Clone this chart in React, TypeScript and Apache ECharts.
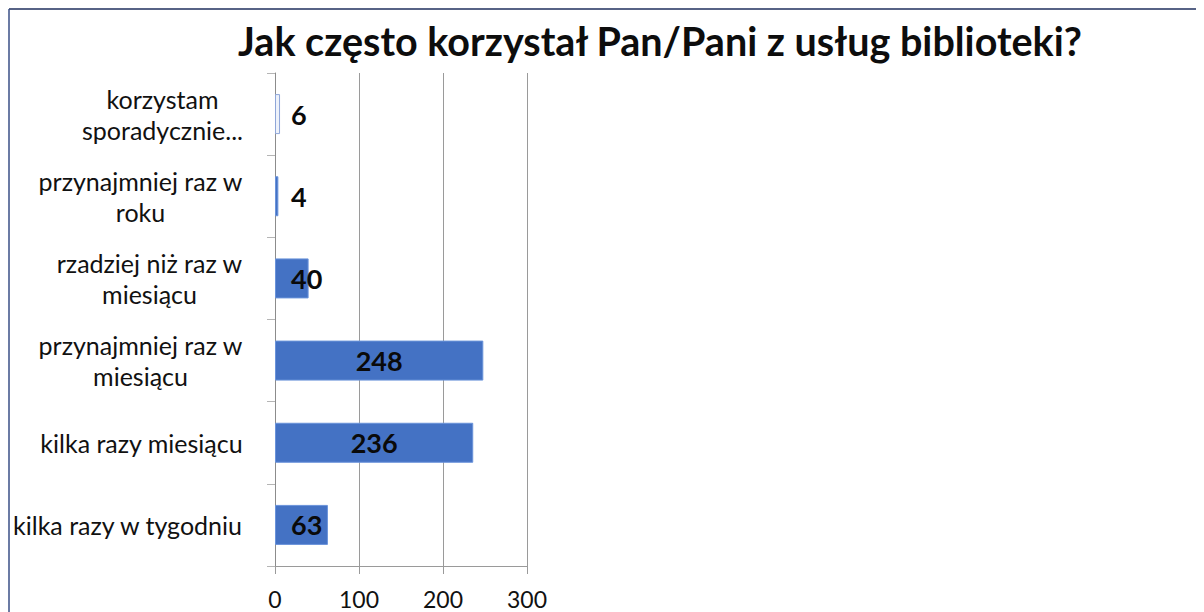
import React, { useEffect, useRef } from "react";
import * as echarts from "echarts";

const titleText = "Jak często korzystał Pan/Pani z usług biblioteki?";
const categories = [
  "korzystam\nsporadycznie...",
  "przynajmniej raz w\nroku",
  "rzadziej niż raz w\nmiesiącu",
  "przynajmniej raz w\nmiesiącu",
  "kilka razy miesiącu",
  "kilka razy w tygodniu",
];
const values = [6, 4, 40, 248, 236, 63];
const xTicks = [0, 100, 200, 300];

const FONT = "Lato, 'Noto Sans', sans-serif";
const CAT_SIZE = 25;

function measure(text: string, size: number): number {
  const c = document.createElement("canvas");
  const ctx = c.getContext("2d");
  if (!ctx) return text.length * size * 0.5;
  ctx.font = `${size}px Lato`;
  return ctx.measureText(text).width;
}

export default function App() {
  const ref = useRef<HTMLDivElement>(null);
  useEffect(() => {
    if (!ref.current) return;
    const chart = echarts.init(ref.current, undefined, { renderer: "svg" });
    const rich: Record<string, any> = {};
    categories.forEach((cat, i) => {
      const w = Math.max(...cat.split("\n").map((l) => measure(l, CAT_SIZE)));
      rich["c" + i] = {
        width: Math.ceil(w) + 2,
        align: "center",
        fontSize: CAT_SIZE,
        fontFamily: FONT,
        color: "#111",
        lineHeight: 31,
      };
    });
    const smallLabel = {
      position: [16, "50%"],
      align: "left",
      verticalAlign: "middle",
    };
    chart.setOption({
      animation: false,
      backgroundColor: "#fff",
      title: {
        text: titleText,
        left: 647,
        top: 7,
        textAlign: "center",
        textStyle: {
          fontFamily: FONT,
          fontWeight: "bold",
          fontSize: 39.5,
          color: "#0d0d0d",
        },
      },
      graphic: [
        { type: "line", shape: { x1: 1, y1: 1, x2: 1200, y2: 1 }, style: { stroke: "#1f2f5e", lineWidth: 1.5 } },
        { type: "line", shape: { x1: 1, y1: 1, x2: 1, y2: 610 }, style: { stroke: "#3a4f86", lineWidth: 1.5 } },
      ],
      grid: { left: 262, top: 65, width: 257, height: 493, containLabel: false },
      xAxis: {
        type: "value",
        min: xTicks[0],
        max: xTicks[xTicks.length - 1],
        interval: 100,
        axisLine: { show: true, lineStyle: { color: "#9a9a9a", width: 1 } },
        axisTick: { show: true, length: 8, lineStyle: { color: "#9a9a9a" } },
        splitLine: { show: true, lineStyle: { color: "#9a9a9a", width: 1 } },
        axisLabel: {
          fontFamily: FONT,
          fontSize: 23,
          color: "#111",
          margin: 21,
        },
      },
      yAxis: {
        type: "category",
        inverse: true,
        data: categories,
        axisLine: { show: true, lineStyle: { color: "#8c8c8c", width: 1 } },
        axisTick: { show: true, length: 8, lineStyle: { color: "#b5b5b5" } },
        axisLabel: {
          interval: 0,
          align: "right",
          margin: 31,
          formatter: (v: string, i: number) =>
            v.split("\n").map((l) => `{c${i}|${l}}`).join("\n"),
          rich,
        },
      },
      series: [
        {
          type: "bar",
          barWidth: 40,
          data: values.map((v, i) => ({
            value: v,
            itemStyle:
              i === 0
                ? { color: "#eef2fa", borderColor: "#8fa6d8", borderWidth: 1 }
                : undefined,
            label: v < 100 ? smallLabel : { position: "inside" },
          })),
          itemStyle: { color: "#4472c4", borderColor: "#6a93da", borderWidth: 1 },
          label: {
            show: true,
            fontFamily: FONT,
            fontWeight: "bold",
            fontSize: 27,
            color: "#0a0a0a",
          },
        },
      ],
    });
    return () => chart.dispose();
  }, []);
  return <div ref={ref} style={{ width: 1196, height: 604 }} />;
}
